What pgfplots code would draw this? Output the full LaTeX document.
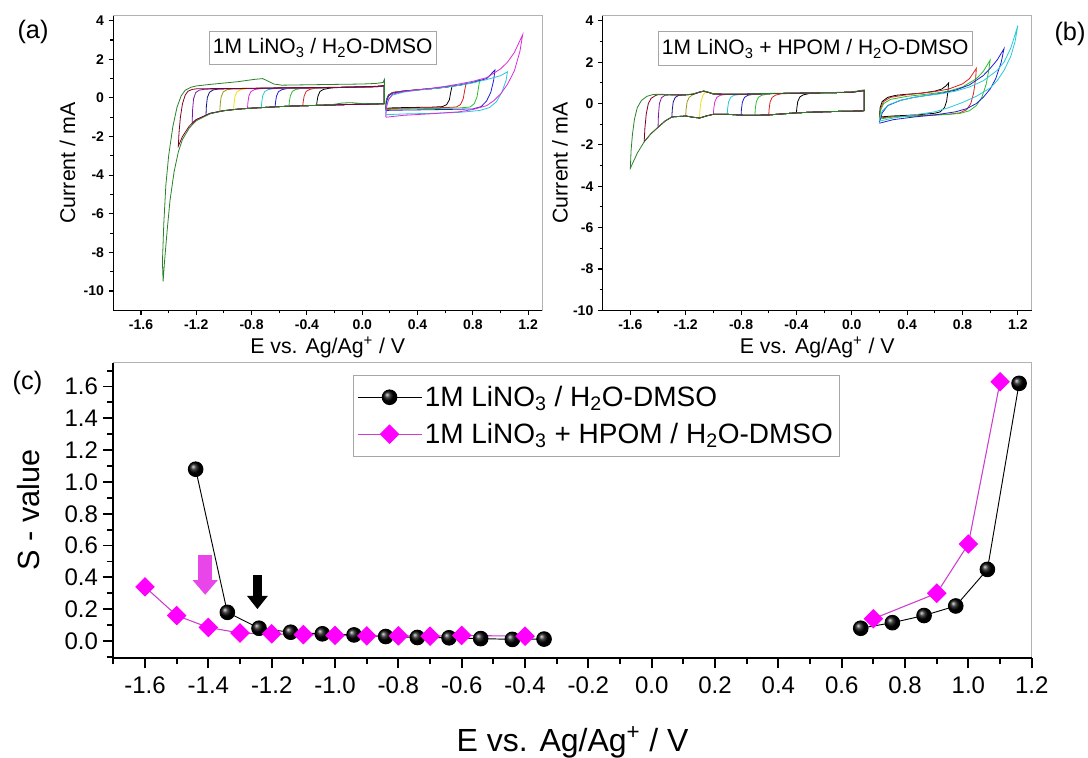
\documentclass[border=0pt]{standalone}
\usepackage{fontspec}
\setmainfont{Liberation Sans}
\usepackage{pgfplots}
\pgfplotsset{compat=1.18}
\usetikzlibrary{arrows.meta}

\definecolor{cBlack}{RGB}{0,0,0}
\definecolor{cRed}{RGB}{220,30,30}
\definecolor{cGreen}{RGB}{40,190,40}
\definecolor{cBlue}{RGB}{30,30,210}
\definecolor{cCyan}{RGB}{40,200,220}
\definecolor{cMag}{RGB}{220,40,220}
\definecolor{cYel}{RGB}{235,225,20}
\definecolor{cOlive}{RGB}{150,150,20}
\definecolor{cNavy}{RGB}{20,20,130}
\definecolor{cPurple}{RGB}{130,20,160}
\definecolor{cWine}{RGB}{130,0,40}
\definecolor{cDkGreen}{RGB}{40,130,40}
\definecolor{pinkM}{RGB}{255,0,255}
\definecolor{pinkL}{RGB}{205,60,205}
\definecolor{pinkA}{RGB}{232,70,232}

\pgfplotsset{
 cvaxis/.style={
  anchor=south west, scale only axis, width=321.5pt, height=221pt,
  xmin=-1.8, xmax=1.3,
  xtick={-1.6,-1.2,-0.8,-0.4,0,0.4,0.8,1.2},
  xticklabels={-1.6,-1.2,-0.8,-0.4,0.0,0.4,0.8,1.2},
  minor xtick={-1.4,-1.0,-0.6,-0.2,0.2,0.6,1.0},
  ytick={-10,-8,-6,-4,-2,0,2,4},
  yticklabels={-10,-8,-6,-4,-2,0,2,4},
  minor ytick={-9,-7,-5,-3,-1,1,3},
  tick align=outside, xtick pos=left, ytick pos=left,
  major tick length=3.5pt, minor tick length=2.2pt,
  every tick/.append style={black, line width=0.8pt},
  axis line style={draw=gray!60, line width=0.6pt},
  tick label style={font=\fontsize{10.5}{12}\selectfont\bfseries},
  xlabel={E vs. Ag/Ag\textsuperscript{+} / V},
  ylabel={Current / mA},
  label style={font=\fontsize{16}{19}\selectfont},
  xlabel style={at={(axis description cs:0.5,-0.148)}, anchor=base},
  clip=false,
  every axis plot/.append style={line width=0.6pt},
 }
}

\begin{document}
\begin{tikzpicture}
\path[use as bounding box] (0,0) rectangle (816pt,567.75pt);

% ---------------- (a) ----------------
\begin{axis}[cvaxis, at={(85pt,335pt)}, ymin=-11, ymax=4.26,
  ylabel style={at={(axis description cs:-0.107,0.5)}, anchor=center}]
\addplot[cBlack] coordinates {(0.16,-0.30) (0.10,-0.31) (0.00,-0.33) (-0.10,-0.34) (-0.20,-0.36) (-0.30,-0.38) (-0.33,-0.386) (-0.327,-0.19) (-0.32,0.10) (-0.305,0.34) (-0.28,0.44) (-0.24,0.50) (-0.20,0.53) (-0.10,0.55) (0.00,0.56) (0.10,0.58) (0.16,0.60) (0.16,-0.30)};
\addplot[cRed] coordinates {(0.16,-0.30) (0.10,-0.31) (0.00,-0.33) (-0.10,-0.34) (-0.20,-0.36) (-0.30,-0.38) (-0.40,-0.40) (-0.43,-0.406) (-0.427,-0.20) (-0.42,0.10) (-0.405,0.34) (-0.38,0.44) (-0.34,0.50) (-0.30,0.52) (-0.20,0.54) (-0.10,0.55) (0.00,0.56) (0.10,0.58) (0.16,0.61) (0.16,-0.30)};
\addplot[cGreen] coordinates {(0.16,-0.30) (0.10,-0.31) (0.00,-0.33) (-0.10,-0.34) (-0.20,-0.36) (-0.30,-0.38) (-0.40,-0.40) (-0.50,-0.42) (-0.53,-0.43) (-0.527,-0.20) (-0.52,0.10) (-0.505,0.34) (-0.48,0.44) (-0.44,0.49) (-0.40,0.51) (-0.30,0.53) (-0.20,0.54) (-0.10,0.55) (0.00,0.57) (0.10,0.59) (0.16,0.62) (0.16,-0.30)};
\addplot[cBlue] coordinates {(0.16,-0.30) (0.10,-0.31) (0.00,-0.33) (-0.10,-0.34) (-0.20,-0.36) (-0.30,-0.38) (-0.40,-0.40) (-0.50,-0.42) (-0.60,-0.45) (-0.63,-0.46) (-0.627,-0.22) (-0.62,0.10) (-0.605,0.33) (-0.58,0.43) (-0.54,0.49) (-0.50,0.51) (-0.40,0.52) (-0.30,0.53) (-0.20,0.54) (-0.10,0.55) (0.00,0.57) (0.10,0.59) (0.16,0.62) (0.16,-0.30)};
\addplot[cCyan] coordinates {(0.16,-0.30) (0.10,-0.31) (0.00,-0.33) (-0.10,-0.34) (-0.20,-0.36) (-0.30,-0.38) (-0.40,-0.40) (-0.50,-0.42) (-0.60,-0.45) (-0.70,-0.49) (-0.73,-0.50) (-0.727,-0.24) (-0.72,0.10) (-0.705,0.33) (-0.68,0.43) (-0.64,0.48) (-0.60,0.50) (-0.50,0.51) (-0.40,0.52) (-0.30,0.53) (-0.20,0.54) (-0.10,0.55) (0.00,0.57) (0.10,0.59) (0.16,0.62) (0.16,-0.30)};
\addplot[cMag] coordinates {(0.16,-0.30) (0.10,-0.31) (0.00,-0.33) (-0.10,-0.34) (-0.20,-0.36) (-0.30,-0.38) (-0.40,-0.40) (-0.50,-0.42) (-0.60,-0.45) (-0.70,-0.49) (-0.80,-0.53) (-0.83,-0.545) (-0.827,-0.26) (-0.82,0.10) (-0.805,0.33) (-0.78,0.43) (-0.74,0.48) (-0.70,0.50) (-0.60,0.51) (-0.50,0.52) (-0.40,0.52) (-0.30,0.53) (-0.20,0.54) (-0.10,0.55) (0.00,0.57) (0.10,0.59) (0.16,0.62) (0.16,-0.30)};
\addplot[cYel] coordinates {(0.16,-0.30) (0.10,-0.31) (0.00,-0.33) (-0.10,-0.34) (-0.20,-0.36) (-0.30,-0.38) (-0.40,-0.40) (-0.50,-0.42) (-0.60,-0.45) (-0.70,-0.49) (-0.80,-0.53) (-0.90,-0.58) (-0.93,-0.60) (-0.927,-0.28) (-0.92,0.08) (-0.905,0.32) (-0.88,0.42) (-0.84,0.47) (-0.80,0.49) (-0.70,0.50) (-0.60,0.51) (-0.50,0.52) (-0.40,0.52) (-0.30,0.53) (-0.20,0.54) (-0.10,0.55) (0.00,0.57) (0.10,0.59) (0.16,0.62) (0.16,-0.30)};
\addplot[cOlive] coordinates {(0.16,-0.30) (0.10,-0.31) (0.00,-0.33) (-0.10,-0.34) (-0.20,-0.36) (-0.30,-0.38) (-0.40,-0.40) (-0.50,-0.42) (-0.60,-0.45) (-0.70,-0.49) (-0.80,-0.53) (-0.90,-0.58) (-1.00,-0.66) (-1.03,-0.70) (-1.027,-0.32) (-1.02,0.06) (-1.005,0.31) (-0.98,0.42) (-0.94,0.47) (-0.90,0.48) (-0.80,0.49) (-0.70,0.50) (-0.60,0.51) (-0.50,0.52) (-0.40,0.52) (-0.30,0.53) (-0.20,0.54) (-0.10,0.55) (0.00,0.57) (0.10,0.59) (0.16,0.62) (0.16,-0.30)};
\addplot[cNavy] coordinates {(0.16,-0.30) (0.10,-0.31) (0.00,-0.33) (-0.10,-0.34) (-0.20,-0.36) (-0.30,-0.38) (-0.40,-0.40) (-0.50,-0.42) (-0.60,-0.45) (-0.70,-0.49) (-0.80,-0.53) (-0.90,-0.58) (-1.00,-0.66) (-1.10,-0.80) (-1.13,-0.89) (-1.127,-0.42) (-1.12,0.02) (-1.105,0.29) (-1.08,0.41) (-1.04,0.46) (-1.00,0.47) (-0.90,0.48) (-0.80,0.49) (-0.70,0.50) (-0.60,0.51) (-0.50,0.52) (-0.40,0.52) (-0.30,0.53) (-0.20,0.54) (-0.10,0.55) (0.00,0.57) (0.10,0.59) (0.16,0.62) (0.16,-0.30)};
\addplot[cPurple] coordinates {(0.16,-0.30) (0.10,-0.31) (0.00,-0.33) (-0.10,-0.34) (-0.20,-0.36) (-0.30,-0.38) (-0.40,-0.40) (-0.50,-0.42) (-0.60,-0.45) (-0.70,-0.49) (-0.80,-0.53) (-0.90,-0.58) (-1.00,-0.66) (-1.10,-0.80) (-1.20,-1.12) (-1.23,-1.30) (-1.227,-0.65) (-1.22,-0.05) (-1.205,0.27) (-1.18,0.40) (-1.14,0.45) (-1.10,0.46) (-1.00,0.47) (-0.90,0.48) (-0.80,0.49) (-0.70,0.50) (-0.60,0.51) (-0.50,0.52) (-0.40,0.52) (-0.30,0.53) (-0.20,0.54) (-0.10,0.55) (0.00,0.57) (0.10,0.59) (0.16,0.62) (0.16,-0.30)};
\addplot[cWine] coordinates {(0.16,-0.30) (0.10,-0.31) (0.00,-0.33) (-0.10,-0.34) (-0.20,-0.36) (-0.30,-0.38) (-0.40,-0.40) (-0.50,-0.42) (-0.60,-0.45) (-0.70,-0.49) (-0.80,-0.53) (-0.90,-0.58) (-1.00,-0.66) (-1.10,-0.80) (-1.20,-1.12) (-1.25,-1.45) (-1.30,-2.00) (-1.33,-2.50) (-1.325,-1.80) (-1.315,-1.00) (-1.30,-0.30) (-1.28,0.15) (-1.26,0.35) (-1.23,0.44) (-1.20,0.47) (-1.10,0.48) (-1.00,0.49) (-0.90,0.49) (-0.80,0.50) (-0.70,0.51) (-0.60,0.52) (-0.50,0.53) (-0.40,0.53) (-0.30,0.54) (-0.20,0.55) (-0.10,0.56) (0.00,0.58) (0.10,0.60) (0.16,0.64) (0.16,-0.30)};
\addplot[cDkGreen] coordinates {(0.16,-0.30) (0.10,-0.31) (0.00,-0.30) (-0.05,-0.26) (-0.10,-0.25) (-0.15,-0.27) (-0.20,-0.33) (-0.30,-0.38) (-0.40,-0.40) (-0.50,-0.42) (-0.60,-0.45) (-0.70,-0.49) (-0.80,-0.53) (-0.90,-0.58) (-1.00,-0.66) (-1.10,-0.82) (-1.20,-1.18) (-1.25,-1.55) (-1.30,-2.15) (-1.33,-2.80) (-1.36,-3.80) (-1.39,-5.30) (-1.41,-6.80) (-1.43,-8.50) (-1.44,-9.50) (-1.445,-8.50) (-1.435,-6.50) (-1.42,-4.50) (-1.40,-3.00) (-1.37,-1.50) (-1.34,-0.50) (-1.31,0.10) (-1.28,0.40) (-1.24,0.55) (-1.20,0.62) (-1.10,0.70) (-1.00,0.77) (-0.90,0.84) (-0.78,0.96) (-0.72,1.00) (-0.69,0.90) (-0.64,0.72) (-0.58,0.66) (-0.40,0.68) (-0.20,0.70) (0.00,0.72) (0.10,0.75) (0.15,0.80) (0.16,0.95) (0.16,-0.30)};
% anodic loops
\addplot[cBlack] coordinates {(0.17,-0.55) (0.175,-0.10) (0.19,0.15) (0.22,0.28) (0.30,0.36) (0.40,0.42) (0.50,0.48) (0.60,0.55) (0.65,0.62) (0.64,0.30) (0.63,-0.10) (0.61,-0.35) (0.58,-0.45) (0.50,-0.48) (0.40,-0.49) (0.30,-0.50) (0.20,-0.52) (0.17,-0.55)};
\addplot[cRed] coordinates {(0.17,-0.58) (0.175,-0.10) (0.19,0.15) (0.22,0.28) (0.30,0.36) (0.40,0.42) (0.50,0.48) (0.60,0.56) (0.70,0.65) (0.75,0.72) (0.74,0.35) (0.73,-0.05) (0.71,-0.35) (0.68,-0.47) (0.60,-0.50) (0.40,-0.52) (0.20,-0.55) (0.17,-0.58)};
\addplot[cGreen] coordinates {(0.17,-0.60) (0.175,-0.15) (0.19,0.12) (0.22,0.26) (0.30,0.35) (0.40,0.42) (0.50,0.48) (0.60,0.56) (0.70,0.66) (0.80,0.80) (0.85,0.95) (0.84,0.50) (0.83,0.05) (0.81,-0.30) (0.78,-0.47) (0.70,-0.52) (0.50,-0.55) (0.30,-0.57) (0.17,-0.60)};
\addplot[cBlue] coordinates {(0.17,-0.66) (0.175,-0.20) (0.19,0.10) (0.22,0.25) (0.30,0.35) (0.40,0.42) (0.50,0.48) (0.60,0.56) (0.70,0.66) (0.80,0.80) (0.90,1.00) (0.96,1.45) (0.95,0.90) (0.93,0.30) (0.90,-0.15) (0.86,-0.45) (0.80,-0.57) (0.60,-0.60) (0.40,-0.62) (0.20,-0.64) (0.17,-0.66)};
\addplot[cCyan] coordinates {(0.17,-0.87) (0.175,-0.40) (0.19,-0.05) (0.22,0.15) (0.30,0.30) (0.40,0.40) (0.50,0.47) (0.60,0.55) (0.70,0.65) (0.80,0.78) (0.90,0.95) (1.00,1.15) (1.05,1.35) (1.04,0.90) (1.01,0.30) (0.97,-0.20) (0.92,-0.50) (0.85,-0.65) (0.70,-0.75) (0.50,-0.80) (0.30,-0.83) (0.17,-0.87)};
\addplot[cMag] coordinates {(0.17,-1.00) (0.175,-0.50) (0.19,-0.10) (0.22,0.20) (0.30,0.33) (0.40,0.42) (0.50,0.50) (0.60,0.60) (0.70,0.72) (0.80,0.86) (0.90,1.05) (1.00,1.50) (1.05,1.85) (1.10,2.35) (1.16,3.27) (1.14,2.40) (1.10,1.40) (1.05,0.70) (1.00,0.20) (0.95,-0.15) (0.90,-0.40) (0.80,-0.60) (0.70,-0.72) (0.50,-0.82) (0.30,-0.90) (0.17,-1.00)};
\draw[black, line width=1.1pt] (rel axis cs:1,0) -- (rel axis cs:0,0) -- (rel axis cs:0,1);
\node[draw=gray!70, fill=white, line width=0.6pt, inner xsep=3pt, minimum height=24.2pt, font=\fontsize{15.75}{18}\selectfont] at (rel axis cs:0.4885,0.8907) {1M LiNO\textsubscript{3} / H\textsubscript{2}O-DMSO};
\end{axis}

% ---------------- (b) ----------------
\begin{axis}[cvaxis, at={(452pt,335pt)}, width=321.75pt, ymin=-10, ymax=4.25,
  ylabel style={at={(axis description cs:-0.0995,0.5)}, anchor=center}]
\addplot[cBlack] coordinates {(0.09,-0.35) (0.00,-0.37) (-0.10,-0.38) (-0.20,-0.40) (-0.30,-0.42) (-0.40,-0.45) (-0.397,-0.22) (-0.39,0.10) (-0.375,0.32) (-0.35,0.42) (-0.31,0.48) (-0.20,0.52) (-0.10,0.53) (0.00,0.55) (0.09,0.62) (0.09,-0.35)};
\addplot[cRed] coordinates {(0.09,-0.35) (0.00,-0.37) (-0.10,-0.38) (-0.20,-0.40) (-0.30,-0.42) (-0.40,-0.45) (-0.50,-0.50) (-0.60,-0.55) (-0.597,-0.25) (-0.59,0.08) (-0.575,0.30) (-0.55,0.41) (-0.51,0.47) (-0.40,0.50) (-0.30,0.51) (-0.20,0.52) (-0.10,0.53) (0.00,0.55) (0.09,0.62) (0.09,-0.35)};
\addplot[cGreen] coordinates {(0.09,-0.35) (0.00,-0.37) (-0.10,-0.38) (-0.20,-0.40) (-0.30,-0.42) (-0.40,-0.45) (-0.50,-0.50) (-0.60,-0.55) (-0.70,-0.57) (-0.697,-0.26) (-0.69,0.08) (-0.675,0.30) (-0.65,0.40) (-0.61,0.46) (-0.50,0.49) (-0.40,0.50) (-0.30,0.51) (-0.20,0.52) (-0.10,0.53) (0.00,0.55) (0.09,0.63) (0.09,-0.35)};
\addplot[cBlue] coordinates {(0.09,-0.35) (0.00,-0.37) (-0.10,-0.38) (-0.20,-0.40) (-0.30,-0.42) (-0.40,-0.45) (-0.50,-0.50) (-0.60,-0.55) (-0.70,-0.57) (-0.80,-0.56) (-0.797,-0.26) (-0.79,0.08) (-0.775,0.30) (-0.75,0.40) (-0.71,0.45) (-0.60,0.48) (-0.50,0.49) (-0.40,0.50) (-0.30,0.51) (-0.20,0.52) (-0.10,0.53) (0.00,0.55) (0.09,0.63) (0.09,-0.35)};
\addplot[cCyan] coordinates {(0.09,-0.35) (0.00,-0.37) (-0.10,-0.38) (-0.20,-0.40) (-0.30,-0.42) (-0.40,-0.45) (-0.50,-0.50) (-0.60,-0.55) (-0.70,-0.57) (-0.80,-0.56) (-0.90,-0.52) (-0.897,-0.24) (-0.89,0.08) (-0.875,0.30) (-0.85,0.40) (-0.81,0.44) (-0.70,0.46) (-0.60,0.48) (-0.50,0.49) (-0.40,0.50) (-0.30,0.51) (-0.20,0.52) (-0.10,0.53) (0.00,0.55) (0.09,0.63) (0.09,-0.35)};
\addplot[cMag] coordinates {(0.09,-0.35) (0.00,-0.37) (-0.10,-0.38) (-0.20,-0.40) (-0.30,-0.42) (-0.40,-0.45) (-0.50,-0.50) (-0.60,-0.55) (-0.70,-0.57) (-0.80,-0.56) (-0.90,-0.52) (-1.00,-0.52) (-0.997,-0.24) (-0.99,0.08) (-0.975,0.30) (-0.95,0.40) (-0.91,0.44) (-0.80,0.45) (-0.70,0.46) (-0.60,0.48) (-0.50,0.49) (-0.40,0.50) (-0.30,0.51) (-0.20,0.52) (-0.10,0.53) (0.00,0.55) (0.09,0.63) (0.09,-0.35)};
\addplot[cYel] coordinates {(0.09,-0.35) (0.00,-0.37) (-0.10,-0.38) (-0.20,-0.40) (-0.30,-0.42) (-0.40,-0.45) (-0.50,-0.50) (-0.60,-0.55) (-0.70,-0.57) (-0.80,-0.56) (-0.90,-0.52) (-1.00,-0.52) (-1.05,-0.60) (-1.10,-0.70) (-1.097,-0.30) (-1.09,0.10) (-1.075,0.40) (-1.06,0.55) (-1.03,0.53) (-1.00,0.46) (-0.90,0.45) (-0.80,0.45) (-0.70,0.46) (-0.60,0.48) (-0.50,0.49) (-0.40,0.50) (-0.30,0.51) (-0.20,0.52) (-0.10,0.53) (0.00,0.55) (0.09,0.63) (0.09,-0.35)};
\addplot[cOlive] coordinates {(0.09,-0.35) (0.00,-0.37) (-0.10,-0.38) (-0.20,-0.40) (-0.30,-0.42) (-0.40,-0.45) (-0.50,-0.50) (-0.60,-0.55) (-0.70,-0.57) (-0.80,-0.56) (-0.90,-0.52) (-1.00,-0.52) (-1.05,-0.60) (-1.10,-0.70) (-1.15,-0.66) (-1.20,-0.60) (-1.197,-0.28) (-1.19,0.08) (-1.175,0.30) (-1.15,0.42) (-1.10,0.55) (-1.07,0.60) (-1.03,0.53) (-1.00,0.46) (-0.90,0.45) (-0.80,0.45) (-0.70,0.46) (-0.60,0.48) (-0.50,0.49) (-0.40,0.50) (-0.30,0.51) (-0.20,0.52) (-0.10,0.53) (0.00,0.55) (0.09,0.63) (0.09,-0.35)};
\addplot[cNavy] coordinates {(0.09,-0.35) (0.00,-0.37) (-0.10,-0.38) (-0.20,-0.40) (-0.30,-0.42) (-0.40,-0.45) (-0.50,-0.50) (-0.60,-0.55) (-0.70,-0.57) (-0.80,-0.56) (-0.90,-0.52) (-1.00,-0.52) (-1.05,-0.60) (-1.10,-0.70) (-1.15,-0.66) (-1.20,-0.60) (-1.30,-0.65) (-1.297,-0.30) (-1.29,0.08) (-1.275,0.30) (-1.25,0.40) (-1.20,0.42) (-1.15,0.45) (-1.10,0.55) (-1.07,0.60) (-1.03,0.53) (-1.00,0.46) (-0.90,0.45) (-0.80,0.45) (-0.70,0.46) (-0.60,0.48) (-0.50,0.49) (-0.40,0.50) (-0.30,0.51) (-0.20,0.52) (-0.10,0.53) (0.00,0.55) (0.09,0.63) (0.09,-0.35)};
\addplot[cPurple] coordinates {(0.09,-0.35) (0.00,-0.37) (-0.10,-0.38) (-0.20,-0.40) (-0.30,-0.42) (-0.40,-0.45) (-0.50,-0.50) (-0.60,-0.55) (-0.70,-0.57) (-0.80,-0.56) (-0.90,-0.52) (-1.00,-0.52) (-1.05,-0.60) (-1.10,-0.70) (-1.15,-0.66) (-1.20,-0.60) (-1.30,-0.65) (-1.35,-0.85) (-1.40,-1.15) (-1.397,-0.55) (-1.39,0.00) (-1.375,0.28) (-1.35,0.40) (-1.30,0.42) (-1.20,0.42) (-1.15,0.45) (-1.10,0.55) (-1.07,0.60) (-1.03,0.53) (-1.00,0.46) (-0.90,0.45) (-0.80,0.45) (-0.70,0.46) (-0.60,0.48) (-0.50,0.49) (-0.40,0.50) (-0.30,0.51) (-0.20,0.52) (-0.10,0.53) (0.00,0.55) (0.09,0.63) (0.09,-0.35)};
\addplot[cWine] coordinates {(0.09,-0.35) (0.00,-0.37) (-0.10,-0.38) (-0.20,-0.40) (-0.30,-0.42) (-0.40,-0.45) (-0.50,-0.50) (-0.60,-0.55) (-0.70,-0.57) (-0.80,-0.56) (-0.90,-0.52) (-1.00,-0.52) (-1.05,-0.60) (-1.10,-0.70) (-1.15,-0.66) (-1.20,-0.60) (-1.30,-0.65) (-1.35,-0.85) (-1.40,-1.15) (-1.45,-1.45) (-1.50,-1.85) (-1.495,-1.20) (-1.485,-0.50) (-1.47,0.00) (-1.45,0.25) (-1.42,0.38) (-1.40,0.43) (-1.30,0.42) (-1.20,0.42) (-1.15,0.45) (-1.10,0.55) (-1.07,0.60) (-1.03,0.53) (-1.00,0.46) (-0.90,0.45) (-0.80,0.45) (-0.70,0.46) (-0.60,0.48) (-0.50,0.49) (-0.40,0.50) (-0.30,0.51) (-0.20,0.52) (-0.10,0.53) (0.00,0.55) (0.09,0.64) (0.09,-0.35)};
\addplot[cDkGreen] coordinates {(0.09,-0.35) (0.00,-0.37) (-0.10,-0.38) (-0.20,-0.40) (-0.30,-0.42) (-0.40,-0.45) (-0.50,-0.50) (-0.60,-0.55) (-0.70,-0.57) (-0.80,-0.56) (-0.90,-0.52) (-1.00,-0.52) (-1.05,-0.60) (-1.10,-0.70) (-1.15,-0.66) (-1.20,-0.60) (-1.30,-0.65) (-1.35,-0.85) (-1.40,-1.15) (-1.45,-1.45) (-1.50,-1.85) (-1.55,-2.40) (-1.60,-3.13) (-1.595,-2.30) (-1.585,-1.50) (-1.57,-0.75) (-1.55,-0.20) (-1.52,0.15) (-1.48,0.35) (-1.44,0.43) (-1.40,0.45) (-1.30,0.43) (-1.20,0.43) (-1.15,0.46) (-1.10,0.56) (-1.07,0.61) (-1.03,0.54) (-1.00,0.47) (-0.90,0.46) (-0.80,0.46) (-0.70,0.47) (-0.60,0.49) (-0.50,0.50) (-0.40,0.51) (-0.30,0.52) (-0.20,0.53) (-0.10,0.54) (0.00,0.56) (0.09,0.66) (0.09,-0.35)};
% anodic loops
\addplot[cBlack] coordinates {(0.20,-0.60) (0.205,-0.20) (0.22,0.10) (0.26,0.30) (0.32,0.40) (0.40,0.45) (0.50,0.50) (0.60,0.60) (0.65,0.70) (0.68,0.85) (0.70,1.00) (0.695,0.60) (0.685,0.10) (0.67,-0.20) (0.64,-0.40) (0.60,-0.47) (0.50,-0.53) (0.40,-0.57) (0.30,-0.60) (0.20,-0.65)};
\addplot[cRed] coordinates {(0.20,-0.65) (0.21,-0.20) (0.23,0.10) (0.28,0.30) (0.40,0.43) (0.50,0.50) (0.60,0.58) (0.70,0.70) (0.80,0.95) (0.85,1.20) (0.90,1.70) (0.895,1.20) (0.88,0.50) (0.86,0.00) (0.83,-0.30) (0.78,-0.45) (0.70,-0.52) (0.50,-0.58) (0.30,-0.63) (0.20,-0.70)};
\addplot[cGreen] coordinates {(0.20,-0.70) (0.21,-0.30) (0.23,0.00) (0.28,0.20) (0.40,0.35) (0.50,0.42) (0.60,0.50) (0.70,0.60) (0.80,0.80) (0.90,1.20) (0.95,1.55) (1.00,2.10) (0.99,1.60) (0.97,0.90) (0.94,0.30) (0.90,-0.10) (0.85,-0.35) (0.78,-0.48) (0.70,-0.52) (0.50,-0.60) (0.30,-0.65) (0.20,-0.75)};
\addplot[cBlue] coordinates {(0.20,-0.90) (0.22,-0.45) (0.26,-0.10) (0.35,0.15) (0.45,0.30) (0.55,0.40) (0.65,0.50) (0.75,0.65) (0.85,0.90) (0.95,1.35) (1.00,1.70) (1.05,2.10) (1.10,2.65) (1.08,2.00) (1.04,1.20) (1.00,0.70) (0.95,0.30) (0.90,0.00) (0.83,-0.25) (0.75,-0.40) (0.60,-0.55) (0.45,-0.65) (0.30,-0.78) (0.20,-0.95)};
\addplot[cCyan] coordinates {(0.20,-0.80) (0.22,-0.35) (0.27,-0.05) (0.35,0.15) (0.45,0.30) (0.55,0.40) (0.65,0.48) (0.75,0.60) (0.85,0.80) (0.95,1.10) (1.05,1.60) (1.10,2.00) (1.15,2.70) (1.20,3.77) (1.18,3.00) (1.15,2.30) (1.10,1.60) (1.05,1.10) (1.00,0.75) (0.90,0.35) (0.80,0.05) (0.70,-0.20) (0.60,-0.40) (0.50,-0.50) (0.40,-0.60) (0.30,-0.70) (0.20,-0.85)};
\draw[black, line width=1.1pt] (rel axis cs:1,0) -- (rel axis cs:0,0) -- (rel axis cs:0,1);
\node[draw=gray!70, fill=white, line width=0.6pt, inner xsep=3pt, minimum height=25.5pt, font=\fontsize{15.75}{18}\selectfont] at (rel axis cs:0.4953,0.888) {1M LiNO\textsubscript{3} + HPOM / H\textsubscript{2}O-DMSO};
\end{axis}

% ---------------- (c) ----------------
\begin{axis}[
 at={(85pt,74.5pt)}, anchor=south west, scale only axis, width=688.8pt, height=221.25pt,
 xmin=-1.7, xmax=1.2, ymin=-0.105, ymax=1.75,
 xtick={-1.6,-1.4,-1.2,-1,-0.8,-0.6,-0.4,-0.2,0,0.2,0.4,0.6,0.8,1,1.2},
 xticklabels={-1.6,-1.4,-1.2,-1.0,-0.8,-0.6,-0.4,-0.2,0.0,0.2,0.4,0.6,0.8,1.0,1.2},
 minor xtick={-1.7,-1.5,-1.3,-1.1,-0.9,-0.7,-0.5,-0.3,-0.1,0.1,0.3,0.5,0.7,0.9,1.1},
 ytick={0,0.2,0.4,0.6,0.8,1,1.2,1.4,1.6},
 yticklabels={0.0,0.2,0.4,0.6,0.8,1.0,1.2,1.4,1.6},
 minor ytick={-0.1,0.1,0.3,0.5,0.7,0.9,1.1,1.3,1.5,1.7},
 tick align=outside, xtick pos=left, ytick pos=left,
 major tick length=8pt, minor tick length=5pt,
 every tick/.append style={black, line width=1.4pt},
 axis line style={draw=gray!60, line width=0.7pt},
 tick label style={font=\fontsize{18}{21}\selectfont},
 xticklabel style={yshift=-3pt},
 xlabel={E vs. Ag/Ag\textsuperscript{+} / V},
 ylabel={S - value},
 xlabel style={at={(axis description cs:0.5,-0.318)}, anchor=base, font=\fontsize{24}{28}\selectfont},
 ylabel style={at={(axis description cs:-0.0918,0.5)}, anchor=center, font=\fontsize{23}{27}\selectfont},
 legend style={at={(0.2605,0.9583)}, anchor=north west, draw=gray!70, line width=0.7pt,
   font=\fontsize{21}{24}\selectfont, row sep=7pt, inner xsep=3pt, inner ysep=6pt},
 legend cell align=left,
 legend image code/.code={\draw[mark repeat=2,mark phase=2,#1] plot coordinates {(0pt,0pt) (24pt,0pt) (48pt,0pt)};},
 clip=false,
]
\addplot[black, line width=0.7pt, mark=ball, mark size=5.5pt, mark options={ball color=black}] coordinates {(-1.44,1.08) (-1.34,0.18) (-1.24,0.08) (-1.14,0.055) (-1.04,0.045) (-0.94,0.038) (-0.84,0.028) (-0.74,0.022) (-0.64,0.02) (-0.54,0.015) (-0.44,0.01) (-0.34,0.012)};
\addlegendentry{1M LiNO\textsubscript{3} / H\textsubscript{2}O-DMSO}
\addplot[pinkL, line width=0.8pt, mark=square*, mark size=4.8pt, mark options={rotate=45, fill=pinkM, draw=pinkM}] coordinates {(-1.6,0.34) (-1.5,0.16) (-1.4,0.085) (-1.3,0.05) (-1.2,0.045) (-1.1,0.04) (-1.0,0.035) (-0.9,0.032) (-0.8,0.032) (-0.7,0.03) (-0.6,0.035) (-0.4,0.03)};
\addlegendentry{1M LiNO\textsubscript{3} + HPOM / H\textsubscript{2}O-DMSO}
\addplot[black, line width=0.7pt, mark=ball, mark size=5.5pt, mark options={ball color=black}, forget plot] coordinates {(0.66,0.08) (0.76,0.115) (0.86,0.16) (0.96,0.22) (1.06,0.45) (1.16,1.62)};
\addplot[pinkL, line width=0.8pt, mark=square*, mark size=4.8pt, mark options={rotate=45, fill=pinkM, draw=pinkM}, forget plot] coordinates {(0.7,0.14) (0.9,0.30) (1.0,0.61) (1.1,1.63)};
\draw[line width=10.5pt, pinkA, -{Triangle[width=18pt,length=11pt]}] (axis cs:-1.41,0.54) -- (axis cs:-1.41,0.29);
\draw[line width=7pt, black, -{Triangle[width=15pt,length=10pt]}] (axis cs:-1.245,0.415) -- (axis cs:-1.245,0.2);
\draw[black, line width=1.5pt] (rel axis cs:1,0) -- (rel axis cs:0,0) -- (rel axis cs:0,1);
\end{axis}

\node[font=\fontsize{19}{22}\selectfont] at (24.75pt,544.1pt) {(a)};
\node[font=\fontsize{19}{22}\selectfont] at (802.5pt,542.6pt) {(b)};
\node[font=\fontsize{19}{22}\selectfont] at (20.6pt,280.5pt) {(c)};
\end{tikzpicture}
\end{document}
